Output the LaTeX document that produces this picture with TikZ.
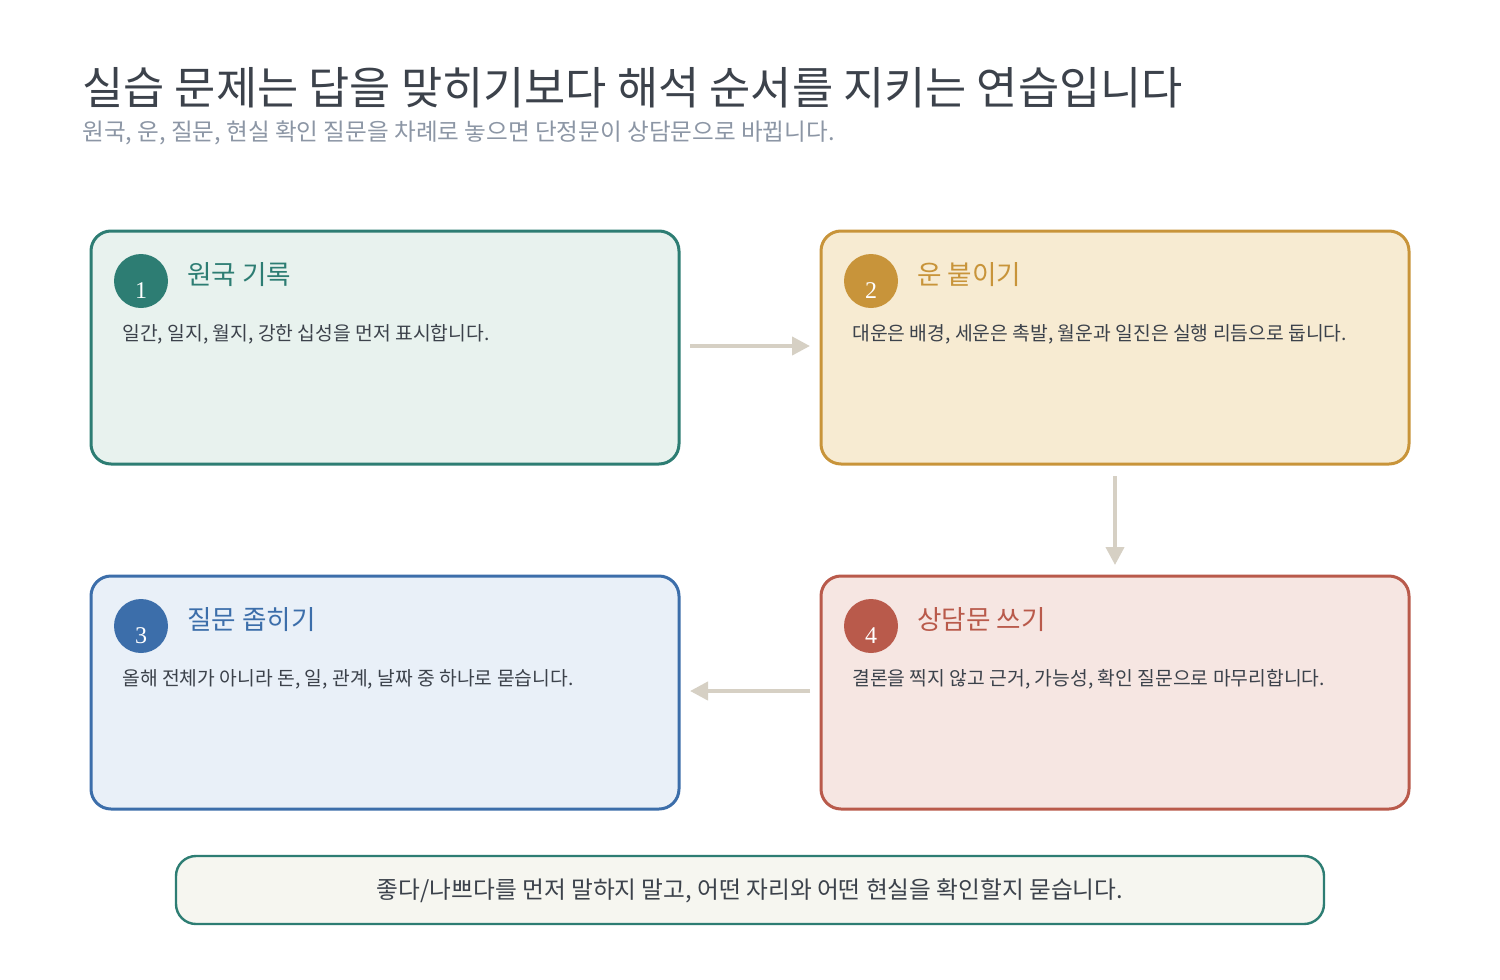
\documentclass[tikz,border=0pt]{standalone}
\usetikzlibrary{arrows.meta}
\usepackage{fontspec}
\setmainfont{Noto Sans CJK KR}
\newfontfamily\numfont{Liberation Serif}
\begin{document}
\begin{tikzpicture}[x=0.5pt,y=-0.5pt]
\definecolor{cteal}{RGB}{45,125,115}\definecolor{fteal}{RGB}{232,242,238}
\definecolor{cgold}{RGB}{200,148,58}\definecolor{fgold}{RGB}{247,235,210}
\definecolor{cblue}{RGB}{60,110,170}\definecolor{fblue}{RGB}{233,240,248}
\definecolor{cred}{RGB}{185,90,75}\definecolor{fred}{RGB}{246,230,226}
\definecolor{arr}{RGB}{214,208,196}\definecolor{txt}{RGB}{60,66,75}
\definecolor{sub}{RGB}{140,150,165}\definecolor{fbot}{RGB}{246,246,240}
\tikzset{card/.style={draw=#1,line width=1.5pt,rounded corners=10pt},
 num/.style={circle,fill=#1,minimum size=27pt,inner sep=0pt},
 ttl/.style={anchor=west,inner sep=0pt,text=#1,font=\fontsize{13.3}{13}\selectfont},
 body/.style={anchor=west,inner sep=0pt,text=txt,font=\fontsize{9.65}{9}\selectfont},
 flow/.style={draw=arr,line width=2pt,-{Triangle[length=9pt,width=9pt]}}}
\useasboundingbox[fill=white] (0,0) rectangle (1500,980);
\node[anchor=west,inner sep=0pt,text=txt,font=\fontsize{22.4}{22}\selectfont] (t) at (82,88) {실습 문제는 답을 맞히기보다 해석 순서를 지키는 연습입니다};
\node[anchor=west,inner sep=0pt,text=sub,font=\fontsize{11.8}{11}\selectfont] (s) at (82,133) {원국, 운, 질문, 현실 확인 질문을 차례로 놓으면 단정문이 상담문으로 바뀝니다.};
\foreach \n/\x/\y/\c/\T/\B in {1/91/231/teal/원국 기록/{일간, 일지, 월지, 강한 십성을 먼저 표시합니다.},
 2/821/231/gold/운 붙이기/{대운은 배경, 세운은 촉발, 월운과 일진은 실행 리듬으로 둡니다.},
 3/91/576/blue/질문 좁히기/{올해 전체가 아니라 돈, 일, 관계, 날짜 중 하나로 묻습니다.},
 4/821/576/red/상담문 쓰기/{결론을 찍지 않고 근거, 가능성, 확인 질문으로 마무리합니다.}}{
 \draw[card=c\c,fill=f\c] (\x,\y) rectangle ++(588,233);
 \coordinate (b\n) at (\x+294,\y+116);
 \node[num=c\c] (c\n) at (\x+50,\y+50) {};
 \node[text=white,font=\numfont\fontsize{12}{12}\selectfont] at (\x+50,\y+60) {\n};
 \node[ttl=c\c] (h\n) at (\x+96,\y+44) {\T};
 \node[body] (d\n) at (\x+31,\y+103) {\B};
}
\coordinate (a1) at (690,346);\coordinate (a2) at (810,346);
\coordinate (a3) at (1115,476);\coordinate (a4) at (1115,565);
\coordinate (a5) at (810,691);\coordinate (a6) at (690,691);
\draw[flow] (a1)--(a2);\draw[flow] (a3)--(a4);\draw[flow] (a5)--(a6);
\draw[draw=cteal,line width=1.2pt,fill=fbot,rounded corners=10pt] (176,856) rectangle (1324,924);
\node[text=txt,font=\fontsize{11.85}{11}\selectfont] (f) at (750,891) {좋다/나쁘다를 먼저 말하지 말고, 어떤 자리와 어떤 현실을 확인할지 묻습니다.};
\end{tikzpicture}
\end{document}
